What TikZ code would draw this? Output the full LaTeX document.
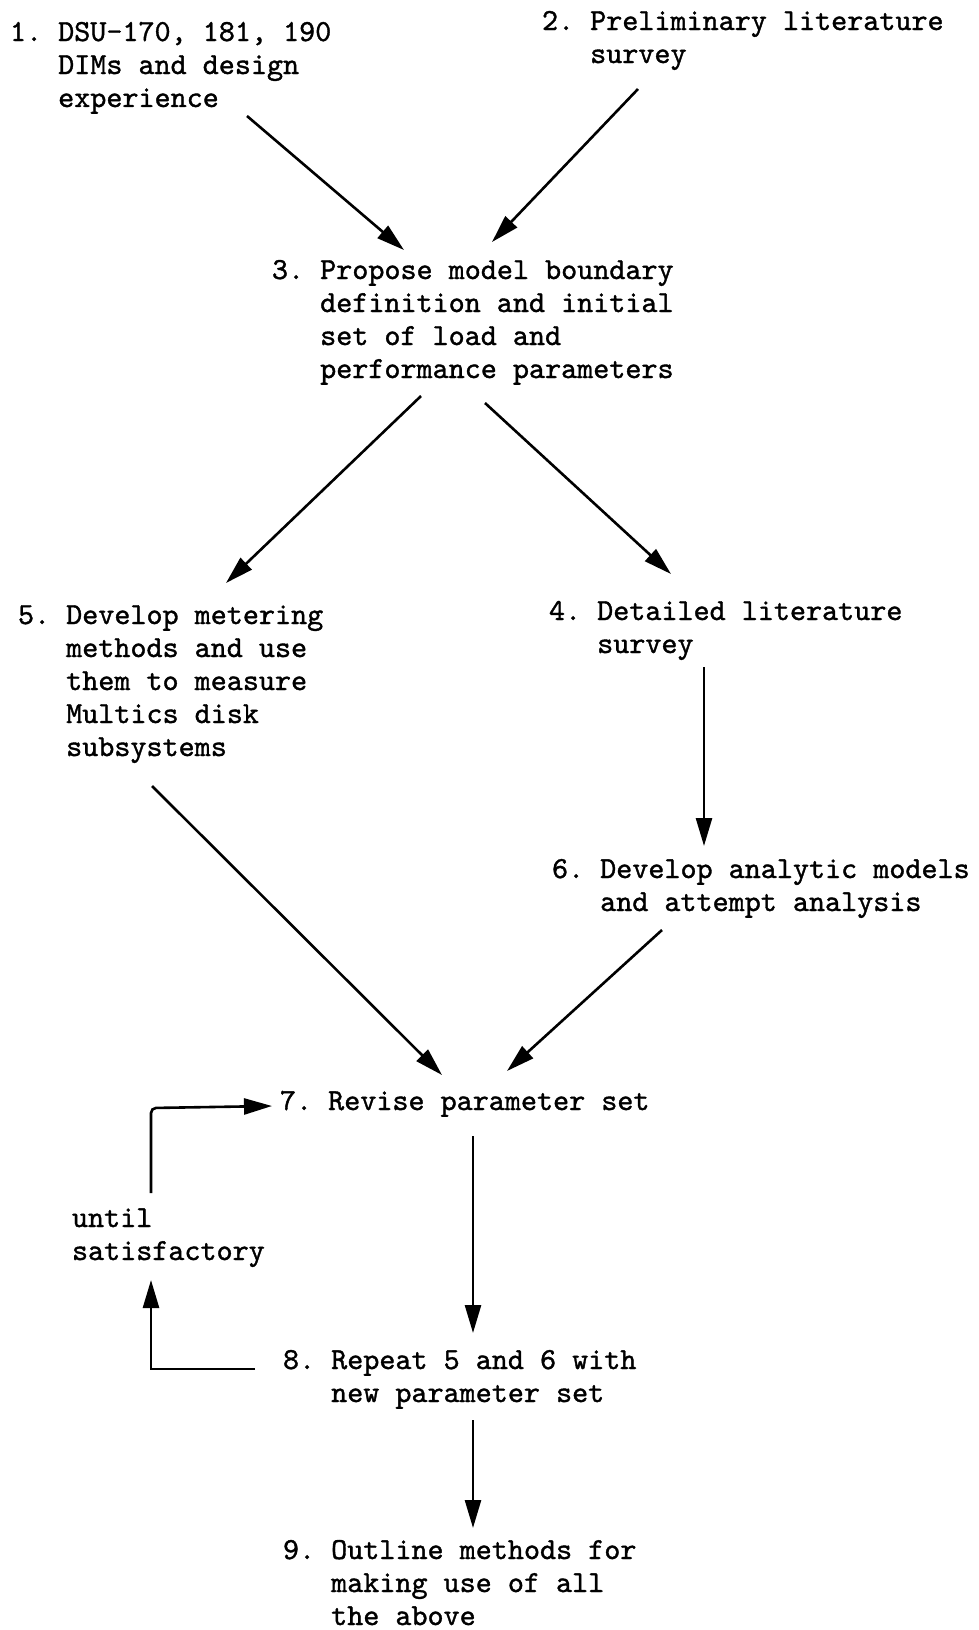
\documentclass[tikz,border=0pt]{standalone}
\usepackage{fontspec}
\newfontfamily\tw[Extension=.otf,RawFeature={embolden=1.2}]{lmmono10-regular}
\usetikzlibrary{arrows.meta}
\frenchspacing
\newcommand\hind{\phantom{0. }}
\newcommand\lines[1]{\begin{tabular}[t]{@{}l@{}}#1\end{tabular}}
\begin{document}
\begin{tikzpicture}[x=1pt,y=-1pt,
  txt/.style={anchor=base west,inner sep=0pt,outer sep=0pt,font=\tw\fontsize{30.6}{33}\selectfont},
  arr/.style={line width=2.6pt,-{Triangle[length=28pt,width=16pt]}},
  ln/.style={line width=2.6pt}]
\useasboundingbox (0,0) rectangle (978,1630);

\node[txt] (n1) at (10,41) {\lines{1. DSU-170, 181, 190\\\hind DIMs and design\\\hind experience}};
\node[txt] (n2) at (542,30) {\lines{2. Preliminary literature\\\hind survey}};
\node[txt] (n3) at (272,279) {\lines{3. Propose model boundary\\\hind definition and initial\\\hind set of load and\\\hind performance parameters}};
\node[txt] (n5) at (18,624) {\lines{5. Develop metering\\\hind methods and use\\\hind them to measure\\\hind Multics disk\\\hind subsystems}};
\node[txt] (n4) at (549,620) {\lines{4. Detailed literature\\\hind survey}};
\node[txt] (n6) at (552,878) {\lines{6. Develop analytic models\\\hind and attempt analysis}};
\node[txt] (n7) at (280,1110) {7. Revise parameter set};
\node[txt] (until) at (72,1227) {\lines{until\\satisfactory}};
\node[txt] (n8) at (283,1369) {\lines{8. Repeat 5 and 6 with\\\hind new parameter set}};
\node[txt] (n9) at (283,1559) {\lines{9. Outline methods for\\\hind making use of all\\\hind the above}};

% connector end points
\coordinate (a13) at (247,116);  \coordinate (b13) at (404,250);
\coordinate (a23) at (638,89);   \coordinate (b23) at (492,242);
\coordinate (a35) at (421,396);  \coordinate (b35) at (226,583);
\coordinate (a34) at (485,403);  \coordinate (b34) at (671,574);
\coordinate (a46) at (704,667);  \coordinate (b46) at (704,846);
\coordinate (a57) at (152,786);  \coordinate (b57) at (442,1075);
\coordinate (a67) at (662,930);  \coordinate (b67) at (507,1071);
\coordinate (a78) at (473,1136); \coordinate (b78) at (473,1333);
\coordinate (a89) at (473,1420); \coordinate (b89) at (473,1528);
\coordinate (l8)  at (255,1369); \coordinate (lc1) at (151,1369); \coordinate (lu) at (151,1280);
\coordinate (ld)  at (151,1193); \coordinate (lc2) at (151,1108); \coordinate (l7) at (272,1106);

\draw[arr] (a13) -- (b13);
\draw[arr] (a23) -- (b23);
\draw[arr] (a35) -- (b35);
\draw[arr] (a34) -- (b34);
\draw[arr] (a46) -- (b46);
\draw[arr] (a57) -- (b57);
\draw[arr] (a67) -- (b67);
\draw[arr] (a78) -- (b78);
\draw[arr] (a89) -- (b89);
\draw[arr] (l8) -- (lc1) -- (lu);
\draw[arr,rounded corners=5pt] (ld) -- (lc2) -- (l7);
\end{tikzpicture}
\end{document}
